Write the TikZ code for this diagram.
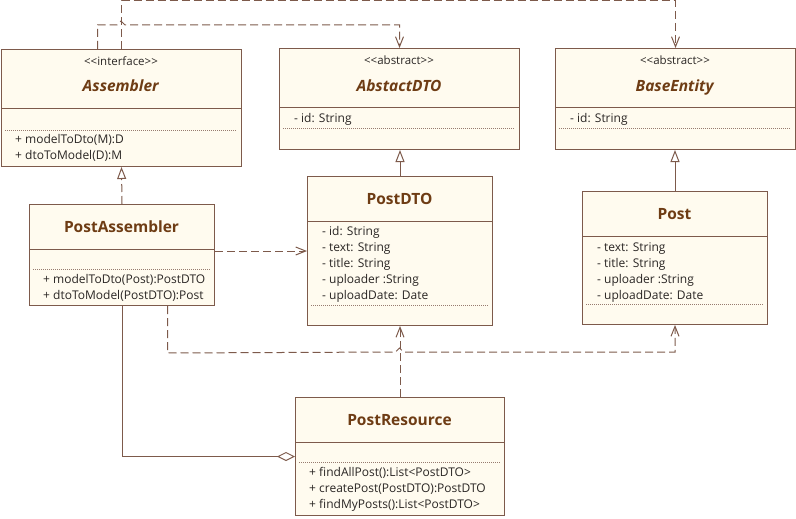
\documentclass[tikz,border=0pt]{standalone}
\usepackage{fontspec}
\setmainfont{Open Sans}
\usetikzlibrary{arrows.meta}

\definecolor{boxfill}{HTML}{FFFBEF}
\definecolor{boxline}{HTML}{7D5A4B}
\definecolor{titlecol}{HTML}{6E3C14}
\definecolor{textcol}{HTML}{2A2624}

\newcommand{\umlst}[1]{<\kern0pt<#1>\kern0pt>}

\tikzset{
	classbox/.style={draw=boxline, fill=boxfill, line width=1pt, inner sep=0pt, anchor=north west},
	sepline/.style={draw=boxline, line width=1pt},
	dotline/.style={draw=boxline!80, line width=0.7pt, dash pattern=on 1pt off 1pt},
	stereotxt/.style={inner sep=0pt, anchor=base, text=textcol, font=\fontsize{11.5}{14}\selectfont},
	titletxt/.style={inner sep=0pt, anchor=base, text=titlecol, font=\fontsize{15.5}{18}\selectfont\bfseries},
	membertxt/.style={inner sep=0pt, anchor=base west, text=textcol, font=\fontsize{12}{16}\selectfont},
	dep/.style={draw=boxline, line width=1pt, dash pattern=on 8pt off 4pt, -{Straight Barb[length=10pt,width=8pt]}},
	realize/.style={draw=boxline, line width=1pt, dash pattern=on 8pt off 4pt, -{Triangle[open,length=12pt,width=9pt,fill=white]}},
	inherit/.style={draw=boxline, line width=1pt, -{Triangle[open,length=12pt,width=9pt,fill=white]}},
	aggr/.style={draw=boxline, line width=1pt, -{Diamond[open,length=18pt,width=9pt,fill=white]}}
}

\begin{document}
\begin{tikzpicture}[x=1pt, y=-1pt]
	\useasboundingbox (0,0) rectangle (796,519);

	% class boxes
	\node[classbox, minimum width=240pt, minimum height=117pt] (asm) at (1,49) {};
	\node[classbox, minimum width=240pt, minimum height=101pt] (absdto) at (279,48) {};
	\node[classbox, minimum width=240pt, minimum height=101pt] (base) at (555,48) {};
	\node[classbox, minimum width=185pt, minimum height=101pt] (pasm) at (29,204) {};
	\node[classbox, minimum width=185pt, minimum height=149pt] (pdto) at (307,176) {};
	\node[classbox, minimum width=185pt, minimum height=133pt] (post) at (582,191) {};
	\node[classbox, minimum width=209pt, minimum height=118pt] (pres) at (295,397) {};

	% compartments
	\draw[sepline] (1,109) -- (241,109);
	\draw[dotline] (5,130) -- (237,130);
	\draw[sepline] (279,108) -- (519,108);
	\draw[dotline] (283,128) -- (515,128);
	\draw[sepline] (555,108) -- (795,108);
	\draw[dotline] (559,128) -- (791,128);
	\draw[sepline] (29,249) -- (214,249);
	\draw[dotline] (33,269) -- (210,269);
	\draw[sepline] (307,221) -- (492,221);
	\draw[dotline] (311,305) -- (488,305);
	\draw[sepline] (582,236) -- (767,236);
	\draw[dotline] (586,304) -- (763,304);
	\draw[sepline] (295,442) -- (504,442);
	\draw[dotline] (299,462) -- (500,462);

	% Assembler
	\node[stereotxt] (asm-st) at (121,66) {\umlst{interface}};
	\node[titletxt] (asm-t) at (121,92) {\textit{Assembler}};
	\node[membertxt] (asm-m1) at (15,143) {+ modelToDto(M):D};
	\node[membertxt] (asm-m2) at (15,159) {+ dtoToModel(D):M};

	% AbstactDTO
	\node[stereotxt] (absdto-st) at (399,65) {\umlst{abstract}};
	\node[titletxt] (absdto-t) at (399,92) {\textit{AbstactDTO}};
	\node[membertxt] (absdto-a1) at (294,123) {- id: String};

	% BaseEntity
	\node[stereotxt] (base-st) at (675,65) {\umlst{abstract}};
	\node[titletxt] (base-t) at (675,92) {\textit{BaseEntity}};
	\node[membertxt] (base-a1) at (570,123) {- id: String};

	% PostAssembler
	\node[titletxt] (pasm-t) at (121.5,232) {PostAssembler};
	\node[membertxt] (pasm-m1) at (43,283) {+ modelToDto(Post):PostDTO};
	\node[membertxt] (pasm-m2) at (43,299) {+ dtoToModel(PostDTO):Post};

	% PostDTO
	\node[titletxt] (pdto-t) at (399.5,204) {PostDTO};
	\node[membertxt] (pdto-a1) at (322,235) {- id: String};
	\node[membertxt] (pdto-a2) at (322,251) {- text: String};
	\node[membertxt] (pdto-a3) at (322,267) {- title: String};
	\node[membertxt] (pdto-a4) at (322,283) {- uploader :String};
	\node[membertxt] (pdto-a5) at (322,299) {- uploadDate: Date};

	% Post
	\node[titletxt] (post-t) at (674.5,219) {Post};
	\node[membertxt] (post-a1) at (597,251) {- text: String};
	\node[membertxt] (post-a2) at (597,267) {- title: String};
	\node[membertxt] (post-a3) at (597,283) {- uploader :String};
	\node[membertxt] (post-a4) at (597,299) {- uploadDate: Date};

	% PostResource
	\node[titletxt] (pres-t) at (399.5,425) {PostResource};
	\node[membertxt] (pres-m1) at (309,476) {+ findAllPost():List<PostDTO>};
	\node[membertxt] (pres-m2) at (309,492) {+ createPost(PostDTO):PostDTO};
	\node[membertxt] (pres-m3) at (309,508) {+ findMyPosts():List<PostDTO>};

	% connectors
	\draw[dep] ([xshift=-24pt]asm.north) -- ++(0,-24) -- (117,25) -- (121,21) -- (125,25) -| (absdto.north);
	\draw[dep] (asm.north) -- ++(0,-48) -| (base.north);
	\draw[realize] (pasm.north) -- (asm.south);
	\draw[inherit] (pdto.north) -- (pdto.north |- absdto.south);
	\draw[inherit] (post.north) -- (post.north |- base.south);
	\draw[dep] (pdto.west -| pasm.east) -- (pdto.west);
	\draw[dep] ([xshift=45.5pt]pasm.south) -- ++(0,47) -- (395.5,352) -- (399.5,348) -- (403.5,352) -| (post.south);
	\draw[dep] (pres.north) -- (pres.north |- pdto.south);
	\draw[aggr] (pasm.south) |- (pres.west);
\end{tikzpicture}
\end{document}
